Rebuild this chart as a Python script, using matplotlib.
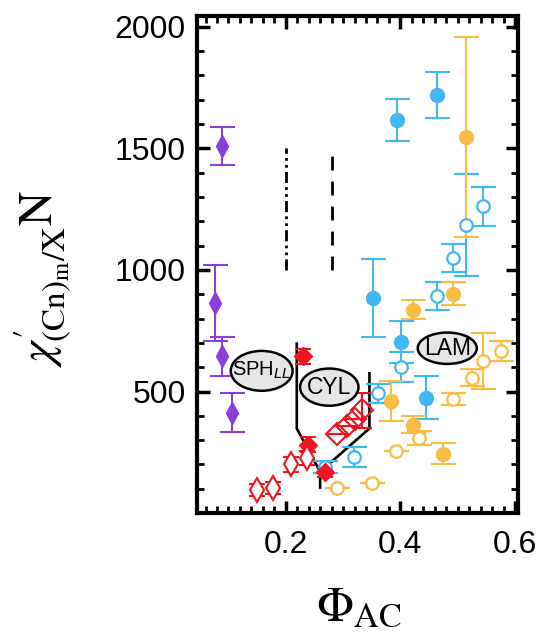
import matplotlib
matplotlib.use('Agg')
import matplotlib.pyplot as plt
from matplotlib.patches import Ellipse
from matplotlib.ticker import MultipleLocator

# purple filled diamonds
pur_x = [0.088, 0.077, 0.088, 0.107]
pur_y = [1508, 864, 645, 412]
pur_e = [78, 155, 80, 80]

# blue filled circles
bf_x = [0.394, 0.4635, 0.352, 0.4007, 0.444]
bf_y = [1618, 1721, 885, 703, 474]
bf_e = [87, 95, 160, 85, 88]

# blue open circles
bo_x = [0.5147, 0.545, 0.4925, 0.4635, 0.4007, 0.3616, 0.319, 0.2686]
bo_y = [1186, 1261, 1049, 892, 601, 492, 231, 190]
bo_e = [210, 80, 58, 58, 60, 40, 40, 25]

# orange filled circles
of_x = [0.5147, 0.4914, 0.4227, 0.3838, 0.4216, 0.474]
of_y = [1547, 903, 837, 460, 364, 245]
of_e = [410, 48, 40, 82, 35, 45]

# orange open circles
oo_x = [0.545, 0.5752, 0.5257, 0.4925, 0.433, 0.392, 0.350, 0.289]
oo_y = [624, 667, 556, 470, 309, 255, 122, 104]
oo_e = [115, 40, 35, 25, 30, 0, 0, 0]

# red filled diamonds
rf_x = [0.2307, 0.2395, 0.2686]
rf_y = [645, 282, 170]
rf_e = [30, 30, 20]

# red open thin diamonds
rd_x = [0.149, 0.178, 0.210, 0.2367]
rd_y = [96, 103, 200, 227]
rd_e = [25, 25, 30, 30]

# red open diamonds
rD_x = [0.289, 0.3065, 0.321, 0.3326]
rD_y = [326, 360, 388, 423]
rD_e = [0, 0, 0, 72]

# phase boundary lines
bl_x = [0.2192, 0.2192, 0.26, 0.26]
bl_y = [697, 348, 170, 105]
br_x = [0.26, 0.346, 0.346]
br_y = [170, 348, 575]

# phase labels (text, x, y, width, height, size)
lab_txt = [r'SPH$_{LL}$', 'CYL', 'LAM']
lab_x = [0.158, 0.2759, 0.4818]
lab_y = [585, 518, 678]
lab_w = [0.108, 0.102, 0.103]
lab_h = [164, 153, 129]
lab_fs = [14.5, 16.5, 16.5]

blue = '#42B7F2'
orange = '#F9BD45'
purple = '#8A3FDB'
red = '#EE1520'

plt.rcParams['mathtext.fontset'] = 'stix'
plt.rcParams['font.family'] = ['Liberation Sans', 'DejaVu Sans']

fig = plt.figure(figsize=(5.44, 6.35), dpi=100)
ax = fig.add_axes([0.362, 0.192, 0.59, 0.783])

ax.plot(bl_x, bl_y, color='k', lw=1.9, zorder=2)
ax.plot(br_x, br_y, color='k', lw=1.9, zorder=2)
ax.plot([0.2, 0.2], [1000, 1500], color='k', lw=2, ls=(0, (4, 1.5, 1, 1.5, 1, 1.5)))
ax.plot([0.28, 0.28], [1000, 1500], color='k', lw=2, ls=(0, (5, 4)))

kw = dict(capsize=9, elinewidth=1.5, capthick=1.5, ls='none')
ax.errorbar(pur_x, pur_y, yerr=pur_e, fmt='d', color=purple, ms=11, **kw)
ax.errorbar(bf_x, bf_y, yerr=bf_e, fmt='o', color=blue, ms=10, **kw)
ax.errorbar(bo_x, bo_y, yerr=bo_e, fmt='o', color=blue, mfc='white', mew=1.6, ms=9, **kw)
ax.errorbar(of_x, of_y, yerr=of_e, fmt='o', color=orange, ms=10, **kw)
ax.errorbar(oo_x, oo_y, yerr=oo_e, fmt='o', color=orange, mfc='white', mew=1.6, ms=9, **kw)
ax.errorbar(rf_x, rf_y, yerr=rf_e, fmt='D', color=red, ms=9, capsize=6, elinewidth=1.5, capthick=1.5, ls='none')
ax.errorbar(rd_x, rd_y, yerr=rd_e, fmt='d', color=red, mfc='white', mew=1.5, ms=12, capsize=6, elinewidth=1.5, capthick=1.5, ls='none')
ax.errorbar(rD_x, rD_y, yerr=rD_e, fmt='D', color=red, mfc='none', mew=1.5, ms=11, capsize=7, elinewidth=1.5, capthick=1.5, ls='none')

for t, x, y, w, h, fs in zip(lab_txt, lab_x, lab_y, lab_w, lab_h, lab_fs):
    ax.add_patch(Ellipse((x, y), w, h, fc='#e6e6e6', ec='k', lw=1.8, zorder=5))
    ax.text(x, y, t, fontsize=fs, ha='center', va='center', math_fontfamily='dejavusans', zorder=6)

ax.set_xlim(0.045, 0.605)
ax.set_ylim(0, 2045)
ax.xaxis.set_minor_locator(MultipleLocator(0.02))
ax.yaxis.set_minor_locator(MultipleLocator(100))
ax.set_xticks([0.2, 0.4, 0.6])
ax.set_yticks([500, 1000, 1500, 2000])
ax.tick_params(which='both', direction='in', top=True, right=True, labelsize=23)
ax.tick_params(axis='x', pad=12)
ax.tick_params(axis='y', pad=8)
ax.tick_params(which='major', length=9, width=2.5)
ax.tick_params(which='minor', length=5, width=2)
for s in ax.spines.values():
    s.set_linewidth(3)

fig.text(0.66, 0.043, r'$\Phi_{\mathrm{AC}}$', fontsize=35, ha='center', va='center')
fig.text(0.078, 0.56, r"$\chi^{\prime}_{(\mathrm{Cn})_\mathrm{m}/\mathrm{X}}\mathrm{N}$", fontsize=34,
         rotation=90, ha='center', va='center')

fig.savefig('out.png', dpi=100)
